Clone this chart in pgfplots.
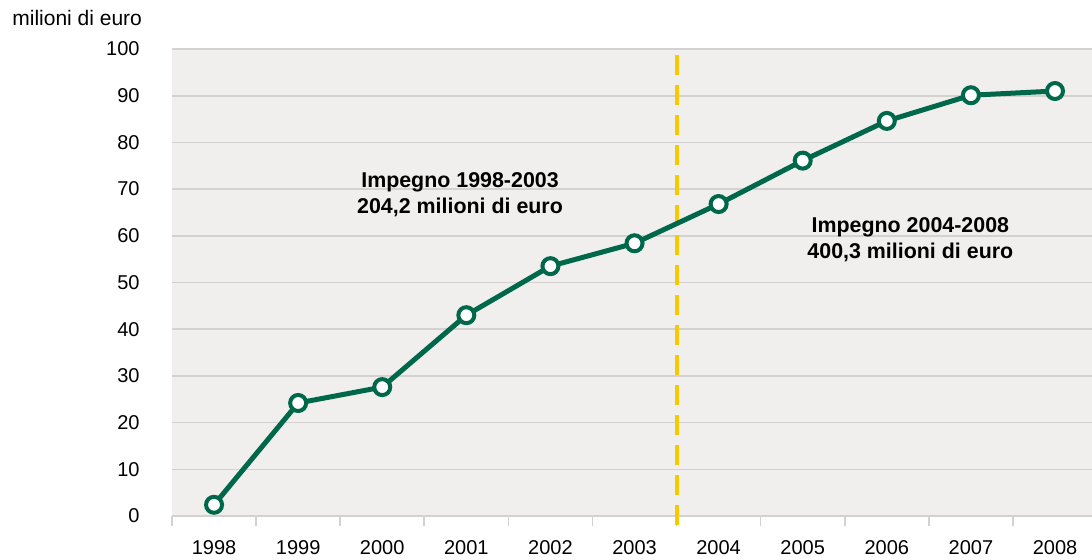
\documentclass[border=0pt]{standalone}
\usepackage{pgfplots}
\pgfplotsset{compat=1.18}
\usepackage{fontspec}
\setmainfont{Liberation Sans}
\definecolor{bg}{HTML}{F0EFED}
\definecolor{gridc}{HTML}{D3D2D0}
\definecolor{lgreen}{HTML}{00684A}
\definecolor{dyellow}{HTML}{F9C900}
\begin{document}
\begin{tikzpicture}
\useasboundingbox (-86pt,-21.5pt) rectangle (460pt,258pt);
\begin{axis}[
  at={(0,0)}, anchor=south west,
  scale only axis, width=460pt, height=233.5pt,
  xmin=-0.5, xmax=10.44, ymin=0, ymax=100,
  axis background/.style={fill=bg},
  axis line style={draw=none},
  tick pos=left,
  ytick={0,10,...,100},
  ymajorgrids, grid style={gridc, line width=0.8pt},
  major tick length=0pt,
  xtick={0,...,10},
  xticklabels={1998,1999,2000,2001,2002,2003,2004,2005,2006,2007,2008},
  minor xtick={-0.5,0.5,...,9.5},
  xtick align=outside,
  minor tick length=5pt,
  minor tick style={gridc, line width=0.8pt},
  tick label style={font=\fontsize{10}{12}\selectfont},
  yticklabel style={anchor=east, inner sep=0pt, xshift=-16pt},
  xticklabel style={anchor=north, inner sep=0pt, yshift=-12pt},
  /pgf/number format/assume math mode=true,
  clip=false,
]
\addplot[dyellow, line width=2pt, dash pattern=on 10pt off 5pt] coordinates {(5.5,-2) (5.5,100)};
\addplot[lgreen, line width=2.5pt, mark=*, mark size=4pt,
  mark options={fill=white, draw=lgreen, line width=2pt}] coordinates {
  (0,2.4) (1,24.2) (2,27.6) (3,43.0) (4,53.5) (5,58.4)
  (6,66.8) (7,76.1) (8,84.6) (9,90.1) (10,91.0)};
\node[align=center, font=\fontsize{10.7}{13}\selectfont\bfseries] at (axis cs:2.925,68.7) {Impegno 1998-2003\\204,2 milioni di euro};
\node[align=center, font=\fontsize{10.7}{13}\selectfont\bfseries] at (axis cs:8.28,59.1) {Impegno 2004-2008\\400,3 milioni di euro};
\end{axis}
\node[anchor=west, inner sep=0pt, font=\fontsize{10.5}{12}\selectfont] at (-80pt,249pt) {milioni di euro};
\end{tikzpicture}
\end{document}
